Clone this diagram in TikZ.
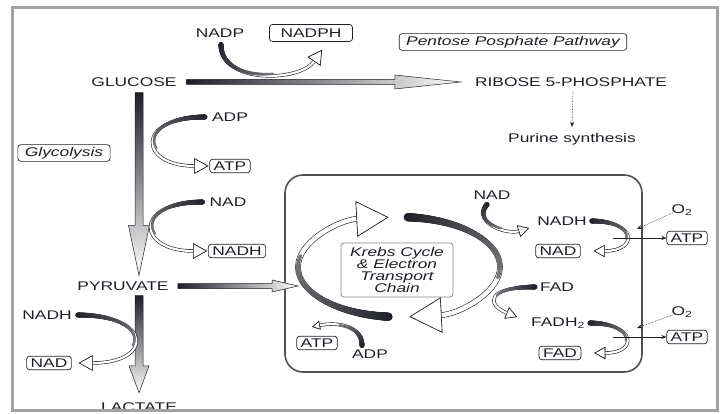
\documentclass[tikz,border=0pt]{standalone}
\usepackage{fontspec}
\setmainfont{Liberation Sans}[FakeStretch=1.38]
\usetikzlibrary{arrows.meta,calc,decorations.markings}
\definecolor{Ink}{HTML}{1E1E26}
\definecolor{FrameGray}{HTML}{A2A2A2}
\definecolor{WallGray}{HTML}{505050}

\tikzset{
  lbl/.style={font=\fontsize{12.6}{14}\selectfont, text=Ink, inner sep=1pt},
  tag/.style={lbl, draw=Ink, line width=.7pt, rounded corners=3pt, inner xsep=4pt, inner ysep=2.5pt},
  note/.style={tag, font=\itshape\fontsize{12.6}{12}\selectfont, inner xsep=7pt},
  taper/.style n args={2}{postaction={decorate, decoration={markings,
    mark=between positions 0 and 0.55 step 0.5pt with {
      \pgfmathsetmacro\tapfrac{\pgfkeysvalueof{/pgf/decoration/mark info/distance from start}/(0.55*\pgfdecoratedpathlength)}
      \pgfmathsetmacro\taprad{#1-(#1-#2)*\tapfrac}
      \pgfmathtruncatemacro\taptint{100-40*\tapfrac}
      \fill[Ink!\taptint!white] (0,0) circle[radius=\taprad pt];}}}},
  flux/.style={preaction={draw=Ink, line width=3.4pt}, draw=white, line width=2.2pt,
    -{Triangle[open, fill=white, color=Ink, line width=.6pt, length=#1, width'=0pt 1.1]}, taper={2.6}{1.2}},
  flux/.default=14pt,
  cycleflux/.style={preaction={draw=Ink, line width=5.6pt}, draw=white, line width=4.4pt,
    -{Triangle[open, fill=white, color=Ink, line width=.6pt, length=32pt, width'=0pt 1.1]}, taper={4.2}{1.8}},
  fat/.style={draw=Ink, line width=.5pt},
  thin arrow/.style={draw=Ink, line width=.6pt, -{Stealth[length=5pt, width=4pt]}},
  oxy/.style={thin arrow, densely dotted},
}

% shaded straight arrow: [shading]{start}{tip}{shaft half}{head half}{head length}
\newcommand{\fatarrow}[6][]{%
  \coordinate (fa-s) at (#2);
  \coordinate (fa-t) at (#3);
  \coordinate (fa-b) at ($(fa-t)!#6!(fa-s)$);
  \shadedraw[fat, #1] ($(fa-s)!#4!90:(fa-t)$) -- ($(fa-b)!#4!90:(fa-t)$) -- ($(fa-b)!#5!90:(fa-t)$) -- (fa-t)
    -- ($(fa-b)!#5!-90:(fa-t)$) -- ($(fa-b)!#4!-90:(fa-t)$) -- ($(fa-s)!#4!-90:(fa-t)$) -- cycle;
}

\begin{document}
\begin{tikzpicture}[x=1pt, y=1pt]
  \useasboundingbox (0,0) rectangle (725,413);
  \clip (0,0) rectangle (725,413);

  % mitochondrion
  \draw[WallGray, line width=1.6pt, rounded corners=18pt] (285,41) rectangle (642,238);
  \coordinate (cyc) at (399,146);

  % labels
  \node[lbl] (nadp) at (220,380) {NADP};
  \node[tag, minimum width=83pt, minimum height=17pt] (nadph) at (311,380) {NADPH};
  \node[note] (ppp) at (513,371) {Pentose Posphate Pathway};
  \node[lbl] (glu) at (134,331) {GLUCOSE};
  \node[lbl] (rib) at (571,331) {RIBOSE 5-PHOSPHATE};
  \node[lbl] (pur) at (572,274) {Purine synthesis};
  \node[note] (glyc) at (64,260) {Glycolysis};
  \node[lbl] (adpa) at (230,296) {ADP};
  \node[tag] (atpa) at (230,247) {ATP};
  \node[lbl] (nada) at (228,211) {NAD};
  \node[tag] (nadha) at (237,162) {NADH};
  \node[lbl] (pyr) at (123,127) {PYRUVATE};
  \node[lbl] (nadhb) at (47,98) {NADH};
  \node[tag] (nadb) at (49,50) {NAD};
  \node[lbl] (lac) at (139,5.5) {LACTATE};

  \node[note, draw=Ink!55, align=center, minimum width=112pt, minimum height=54pt, inner xsep=3pt] (krebs) at (397,143)
    {Krebs Cycle\\\& Electron\\Transport\\Chain};
  \node[lbl] (nadc) at (492,218) {NAD};
  \node[lbl] (nadhc) at (562,192) {NADH};
  \node[tag] (nadd) at (558,162) {NAD};
  \node[lbl] (fad) at (557,126) {FAD};
  \node[lbl] (fadh) at (558,90) {FADH\textsubscript{2}};
  \node[tag] (fadb) at (560,60) {FAD};
  \node[tag] (atpd) at (317,70) {ATP};
  \node[lbl] (adpd) at (370,59) {ADP};
  \node[lbl] (o2a) at (682,203) {O\textsubscript{2}};
  \node[tag] (atpb) at (687,175) {ATP};
  \node[lbl] (o2b) at (682,101) {O\textsubscript{2}};
  \node[tag] (atpc) at (687,76) {ATP};

  % main pathway
  \fatarrow[top color=Ink, bottom color=white]{[xshift=5pt,yshift=-5pt]glu.south}{[xshift=16pt,yshift=5pt]pyr.north}{4pt}{10.5pt}{50pt}
  \fatarrow[top color=Ink, bottom color=white]{[xshift=16pt,yshift=-4pt]pyr.south}{[yshift=9pt]lac.north}{4pt}{10pt}{27pt}
  \fatarrow[left color=Ink, right color=white]{[xshift=9pt]glu.east}{[xshift=-13pt]rib.west}{2.5pt}{7pt}{66pt}
  \coordinate (krebsin) at (298,127);
  \fatarrow[left color=Ink, right color=white]{[xshift=8pt]pyr.east}{krebsin}{2.5pt}{6pt}{26pt}
  \draw[oxy] ([xshift=2pt,yshift=-4pt]rib.south) -- ([yshift=5pt]pur.north);

  % cofactors
  \draw[flux] ([xshift=1pt,yshift=-6pt]nadp.south) .. controls +(0,-40) and +(-22,-32) .. ([xshift=11pt,yshift=-8pt]nadph.south);
  \draw[flux] ([xshift=-6pt]adpa.west) .. controls +(-70,0) and +(-70,0) .. ([xshift=-1pt]atpa.west);
  \draw[flux] ([xshift=-6pt]nada.west) .. controls +(-70,0) and +(-70,0) .. ([xshift=-1pt]nadha.west);
  \draw[flux] ([xshift=5pt]nadhb.east) .. controls +(75,0) and +(75,0) .. ([xshift=7pt]nadb.east);

  % Krebs cycle
  \draw[cycleflux] ($(cyc)+(264:101 and 50)$) arc[start angle=264, end angle=96, x radius=101, y radius=50];
  \draw[cycleflux] ($(cyc)+(85:101 and 50)$) arc[start angle=85, end angle=-84, x radius=101, y radius=50];
  \draw[flux=11pt] ([xshift=-5pt,yshift=-4pt]nadc.south) .. controls +(-15,-18) and +(-23,-7) .. ([xshift=-7pt,yshift=-7pt]nadhc.west);
  \draw[flux=11pt] ([xshift=4pt]nadhc.east) .. controls +(45,0) and +(45,0) .. ([xshift=13pt]nadd.east);
  \draw[flux=11pt] ([xshift=-4pt]fad.west) .. controls +(-50,0) and +(-30,12) .. ([xshift=-13pt,yshift=6pt]fadh.west);
  \draw[flux=11pt] ([xshift=4pt]fadh.east) .. controls +(45,0) and +(45,0) .. ([xshift=13pt]fadb.east);
  \draw[flux=8pt] ([xshift=-8pt,yshift=3pt]adpd.north) .. controls +(0,20) and +(25,5) .. ([xshift=-5pt,yshift=9pt]atpd.north);

  % electron transport
  \coordinate (etca) at (613,175);
  \coordinate (etcb) at (613,76);
  \coordinate (o2ina) at (637,184);
  \coordinate (o2inb) at (637,85);
  \draw[thin arrow] (etca) -- (atpb.west);
  \draw[thin arrow] (etcb) -- (atpc.west);
  \draw[oxy] ([xshift=2pt,yshift=-3pt]o2a.west) -- (o2ina);
  \draw[oxy] ([xshift=2pt,yshift=-3pt]o2b.west) -- (o2inb);

  % frame
  \draw[FrameGray, line width=3pt] (12,2.5) rectangle (717,405);
\end{tikzpicture}
\end{document}
